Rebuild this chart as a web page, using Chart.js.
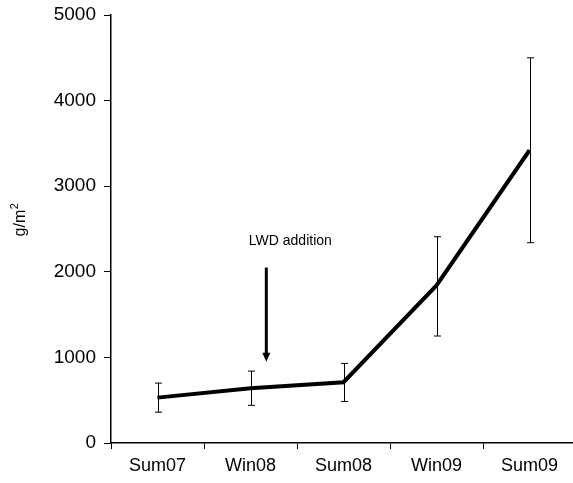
<!DOCTYPE html>
<html>
<head>
<meta charset="utf-8">
<script src="https://cdn.jsdelivr.net/npm/chart.js@4/dist/chart.umd.min.js"></script>
<style>
  html, body { margin: 0; padding: 0; background: #fff; overflow: hidden; }
  #wrap { width: 580px; height: 483px; }
</style>
</head>
<body>
<div id="wrap"><canvas id="chart"></canvas></div>
<script>
// datos
const seasons = ['Sum07', 'Win08', 'Sum08', 'Win09', 'Sum09'];
const biomass = [530, 640, 710, 1840, 3420];
const errorUp = [170, 200, 220, 570, 1080];
const errorDown = [170, 200, 225, 590, 1080];
const yTicks = [0, 1000, 2000, 3000, 4000, 5000];

const noteText = 'LWD addition';
const notePos = 1.17;      // posicion en el eje x (indice de categoria)
const arrowFrom = 2050;    // valores en y
const arrowTo = 950;

const FONT = 'Liberation Sans, Arial, sans-serif';

// barras de error
const errorBars = {
    id: 'errorBars',
    afterDatasetsDraw(chart) {
        const ctx = chart.ctx;
        const x = chart.scales.x, y = chart.scales.y;
        ctx.save();
        ctx.strokeStyle = '#000';
        ctx.lineWidth = 1;
        biomass.forEach((v, i) => {
            const px = Math.round(x.getPixelForValue(i)) + 0.5;
            const top = y.getPixelForValue(v + errorUp[i]);
            const bot = y.getPixelForValue(v - errorDown[i]);
            ctx.beginPath();
            ctx.moveTo(px, top); ctx.lineTo(px, bot);
            ctx.moveTo(px - 3.5, top); ctx.lineTo(px + 3.5, top);
            ctx.moveTo(px - 3.5, bot); ctx.lineTo(px + 3.5, bot);
            ctx.stroke();
        });
        ctx.restore();
    }
};

// flecha, texto de la anotacion y titulo del eje y
const arrowNote = {
    id: 'arrowNote',
    afterDraw(chart) {
        const ctx = chart.ctx;
        const x = chart.scales.x, y = chart.scales.y;
        const step = x.getPixelForValue(1) - x.getPixelForValue(0);
        const px = x.getPixelForValue(Math.floor(notePos)) + (notePos % 1) * step;
        const y1 = y.getPixelForValue(arrowFrom);
        const y2 = y.getPixelForValue(arrowTo);
        ctx.save();
        ctx.strokeStyle = '#000';
        ctx.fillStyle = '#000';
        ctx.lineWidth = 3;
        ctx.beginPath();
        ctx.moveTo(px, y1); ctx.lineTo(px, y2 - 8);
        ctx.stroke();
        ctx.beginPath();
        ctx.moveTo(px - 4, y2 - 9); ctx.lineTo(px + 4, y2 - 9); ctx.lineTo(px, y2);
        ctx.closePath();
        ctx.fill();
        ctx.font = '14px ' + FONT;
        ctx.textAlign = 'center';
        ctx.textBaseline = 'middle';
        ctx.fillText(noteText, px + 24, y1 - 26);

        // g/m2 con superindice
        ctx.translate(25, 220);
        ctx.rotate(-Math.PI / 2);
        ctx.textAlign = 'left';
        ctx.textBaseline = 'alphabetic';
        const base = 'g/m';
        ctx.font = '16px ' + FONT;
        const w1 = ctx.measureText(base).width;
        ctx.font = '11px ' + FONT;
        const w2 = ctx.measureText('2').width;
        const start = -(w1 + w2) / 2;
        ctx.font = '16px ' + FONT;
        ctx.fillText(base, start, 0);
        ctx.font = '11px ' + FONT;
        ctx.fillText('2', start + w1 + 0.5, -7);
        ctx.restore();
    }
};

new Chart(document.getElementById('chart'), {
    type: 'line',
    data: {
        labels: seasons,
        datasets: [{
            data: biomass,
            borderColor: '#000',
            borderWidth: 4,
            pointRadius: 0,
            tension: 0
        }]
    },
    options: {
        responsive: true,
        maintainAspectRatio: false,
        animation: false,
        layout: { padding: { top: 15, left: 0, right: 4, bottom: 0 } },
        plugins: {
            legend: { display: false },
            tooltip: { enabled: false }
        },
        scales: {
            x: {
                offset: true,
                grid: {
                    offset: true,
                    drawOnChartArea: false,
                    drawTicks: true,
                    tickLength: 6,
                    color: '#000'
                },
                border: { color: '#000', width: 1.5 },
                ticks: { color: '#000', font: { family: FONT, size: 18 }, padding: 6 },
                afterFit: s => { s.height = 40; s.paddingLeft = 0; s.paddingRight = 0; }
            },
            y: {
                min: 0,
                max: 5000,
                afterBuildTicks: s => { s.ticks = yTicks.map(v => ({ value: v })); },
                grid: {
                    drawOnChartArea: false,
                    drawTicks: true,
                    tickLength: 7,
                    color: '#000'
                },
                border: { color: '#000', width: 1.5 },
                ticks: {
                    color: '#000',
                    font: { family: FONT, size: 19 },
                    padding: 8,
                    callback: v => String(v)
                },
                afterFit: s => { s.width = 111; s.paddingTop = 0; s.paddingBottom = 0; }
            }
        }
    },
    plugins: [errorBars, arrowNote]
});
</script>
</body>
</html>
